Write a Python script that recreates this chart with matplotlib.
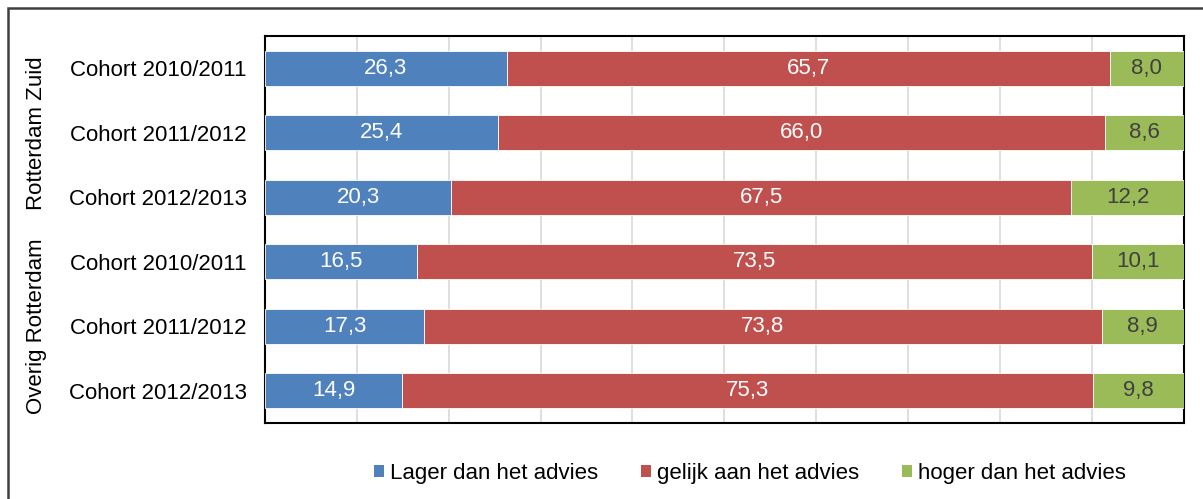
import matplotlib
matplotlib.use("Agg")
import matplotlib.pyplot as plt
from matplotlib.patches import Patch, Rectangle

plt.rcParams['font.family'] = ['Liberation Sans', 'DejaVu Sans']

cohorts = ["Cohort 2010/2011", "Cohort 2011/2012", "Cohort 2012/2013",
           "Cohort 2010/2011", "Cohort 2011/2012", "Cohort 2012/2013"]
groups = ["Rotterdam Zuid", "Overig Rotterdam"]
lager = [26.3, 25.4, 20.3, 16.5, 17.3, 14.9]
gelijk = [65.7, 66.0, 67.5, 73.5, 73.8, 75.3]
hoger = [8.0, 8.6, 12.2, 10.1, 8.9, 9.8]
series_names = ["Lager dan het advies", "gelijk aan het advies", "hoger dan het advies"]
colors = ["#4F81BD", "#C0504D", "#9BBB59"]
text_colors = ["white", "white", "#404040"]

W, H = 1203, 499
fig = plt.figure(figsize=(W / 100, H / 100), dpi=100)
ax = fig.add_axes([265 / W, 1 - 423 / H, (1183.5 - 265) / W, (423 - 36) / H])

n = len(cohorts)
ypos = list(range(n))
left = [0.0] * n
fs = 16
for vals, col, tc, name in zip([lager, gelijk, hoger], colors, text_colors, series_names):
    bars = ax.barh(ypos, vals, left=left, height=0.55, color=col,
                   edgecolor="white", linewidth=0.6, label=name, zorder=3)
    for b, v in zip(bars, vals):
        ax.text(b.get_x() + b.get_width() / 2, b.get_y() + b.get_height() / 2,
                f"{v:.1f}".replace(".", ","), ha="center", va="center",
                color=tc, fontsize=fs, zorder=4)
    left = [l + v for l, v in zip(left, vals)]

ax.set_xlim(0, 100)
ax.set_ylim(n - 0.5, -0.5)
ax.set_xticks(range(0, 101, 10))
ax.set_xticklabels([])
ax.tick_params(axis="x", length=0)
ax.grid(axis="x", color="#D9D9D9", linewidth=1.2, zorder=0)
ax.set_yticks(ypos)
ax.set_yticklabels(cohorts, fontsize=fs)
ax.tick_params(axis="y", length=0, pad=13)
for s in ax.spines.values():
    s.set_color("black")
    s.set_linewidth(1.5)

# group labels
for gi, g in enumerate(groups):
    yc = (gi * 3 + 1)  # center row of group
    ax.text(-0.249, yc, g, transform=ax.get_yaxis_transform(), rotation=90,
            ha="center", va="center", fontsize=fs)

handles = [Patch(facecolor=c, edgecolor="none") for c in colors]
fig.legend(handles, series_names, loc="center", bbox_to_anchor=(750 / W, 1 - 473 / H),
           ncol=3, frameon=False, fontsize=fs, handlelength=0.45, handleheight=0.45,
           handletextpad=0.3, columnspacing=1.9)

# outer border
fig.patches.append(Rectangle((7.5 / W, -0.1), 1.2, 1 - 8 / H + 0.1, transform=fig.transFigure,
                             fill=False, edgecolor="#404040", linewidth=1.8))

fig.savefig("out.png", dpi=100)
